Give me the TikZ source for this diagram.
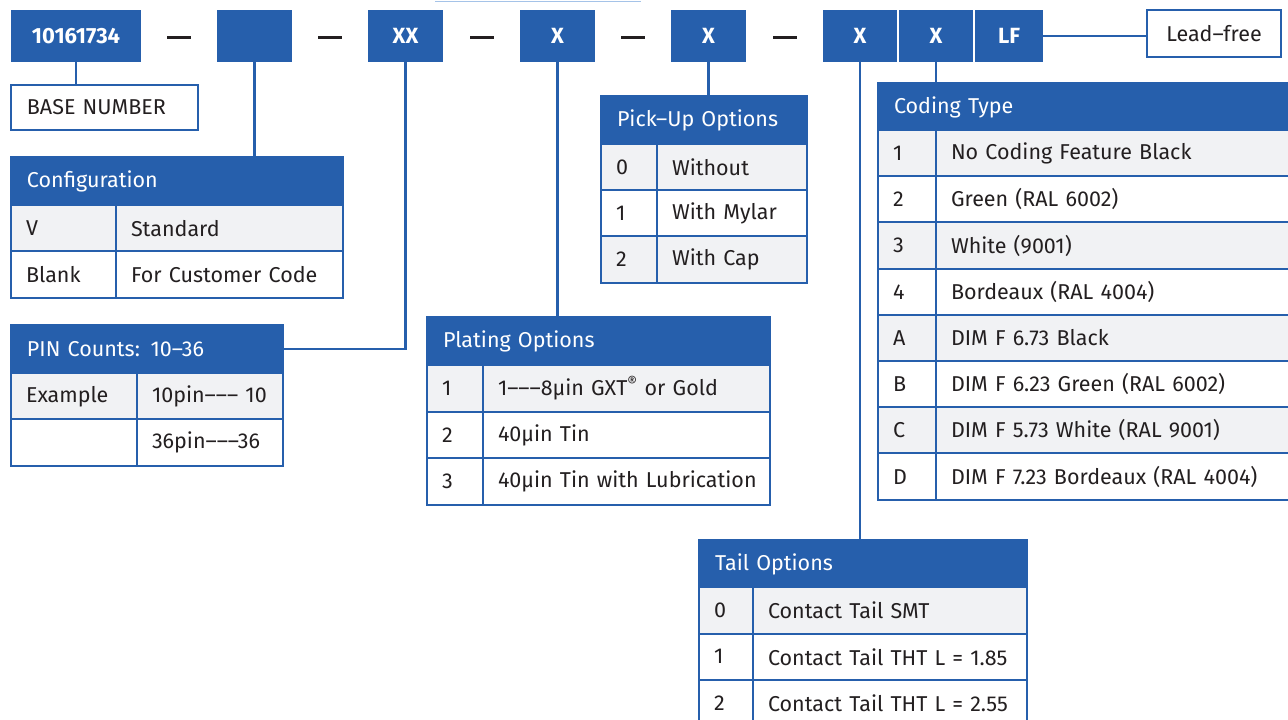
\documentclass[tikz,border=0pt]{standalone}
\usepackage{fontspec}
\setmainfont{Fira Sans}
\definecolor{hdrblue}{RGB}{38,95,172}
\definecolor{rowgray}{RGB}{241,242,244}
\definecolor{ink}{RGB}{35,31,32}
\definecolor{linkblue}{RGB}{165,195,232}

\begin{document}
\begin{tikzpicture}[x=1pt, y=-1pt, text=ink, font={\fontsize{21.5}{26}\selectfont\spaceskip=4pt\relax},
  topbox/.style={fill=hdrblue, text=white, font=\fontsize{22}{26}\selectfont\bfseries, minimum height=52, inner sep=0, outer sep=0, anchor=north west},
  hdr/.style={fill=hdrblue, draw=hdrblue, line width=2, text=white, anchor=north west, minimum height=48, inner xsep=16, inner ysep=0, outer sep=0, align=left},
  cell/.style={draw=hdrblue, line width=2, anchor=north west, minimum height=46.5, inner xsep=15, inner ysep=0, outer sep=0, align=left},
  conn/.style={draw=hdrblue, line width=2.5},
  sep/.style={fill=ink, minimum width=24, minimum height=3, inner sep=0}]
\useasboundingbox (0,0) rectangle (1288,720);
\draw[linkblue, line width=1] (435,1) -- (641,1);

% part number boxes
\node[topbox, minimum width=130] (b0) at (11,10) {10161734};
\node[topbox, minimum width=75] (b1) at (217,10) {};
\node[topbox, minimum width=75] (b2) at (368,10) {XX};
\node[topbox, minimum width=75] (b3) at (520,10) {X};
\node[topbox, minimum width=75] (b4) at (671,10) {X};
\node[topbox, minimum width=74] (b5) at (823,10) {X};
\node[topbox, minimum width=74] (b6) at (899,10) {X};
\node[topbox, minimum width=68] (b7) at (975,10) {LF};
\node[sep] (d1) at (179,37) {};
\node[sep] (d2) at (330,37) {};
\node[sep] (d3) at (482,37) {};
\node[sep] (d4) at (633,37) {};
\node[sep] (d5) at (785,37) {};

\node[draw=hdrblue, line width=2.5, fill=white, anchor=north west, outer sep=0, minimum width=134, minimum height=47] (lf) at (1147,10) {Lead–free};
\node[draw=hdrblue, line width=2.5, anchor=north west, outer sep=0, minimum height=45, text width=155pt, inner xsep=16, inner ysep=0, align=left] (base) at (11,85) {BASE NUMBER};

% configuration
\node[hdr, text width=300pt] (cfg) at (11,157) {Configuration};
\foreach \k/\v/\f [count=\i] in {V/Standard/rowgray, Blank/For Customer Code/white}{
  \node[cell, fill=\f, text width=75pt] (cfg-k\i) at (11,{205+(\i-1)*46}) {\k};
  \node[cell, fill=\f, text width=197pt] (cfg-v\i) at (cfg-k\i.north east) {\mbox{\v}};
}

% pin counts
\node[hdr, text width=240pt] (pin) at (11,325) {PIN Counts: 10–36};
\foreach \k/\v/\f [count=\i] in {Example/10pin––– 10/rowgray, /36pin–––36/white}{
  \node[cell, fill=\f, text width=96pt] (pin-k\i) at (11,{373+(\i-1)*46}) {\k};
  \node[cell, fill=\f, text width=116pt] (pin-v\i) at (pin-k\i.north east) {\mbox{\v}};
}

% plating
\node[hdr, text width=311pt] (plt) at (427,317) {Plating Options};
\foreach \k/\v/\f [count=\i] in {1/{1–––8µin GXT\textsuperscript{®} or Gold}/rowgray, 2/40µin Tin/white, 3/40µin Tin with Lubrication/white}{
  \node[cell, fill=\f, text width=26pt] (plt-k\i) at (427,{365+(\i-1)*46.7}) {\k};
  \node[cell, fill=\f, text width=257pt] (plt-v\i) at (plt-k\i.north east) {\mbox{\v}};
}

% pick-up
\node[hdr, text width=174pt] (pck) at (601,96) {Pick–Up Options};
\foreach \k/\v/\f [count=\i] in {0/Without/rowgray, 1/With Mylar/white, 2/With Cap/rowgray}{
  \node[cell, fill=\f, text width=26pt] (pck-k\i) at (601,{144+(\i-1)*46}) {\k};
  \node[cell, fill=\f, text width=120pt] (pck-v\i) at (pck-k\i.north east) {\mbox{\v}};
}

% coding
\node[hdr, text width=390pt] (cod) at (878,83) {Coding Type};
\foreach \k/\v/\f [count=\i] in {1/No Coding Feature Black/rowgray, 2/Green (RAL 6002)/white, 3/White (9001)/rowgray, 4/Bordeaux (RAL 4004)/white, A/DIM F 6.73 Black/rowgray, B/DIM F 6.23 Green (RAL 6002)/white, C/DIM F 5.73 White (RAL 9001)/rowgray, D/DIM F 7.23 Bordeaux (RAL 4004)/white}{
  \node[cell, fill=\f, text width=28pt] (cod-k\i) at (878,{130+(\i-1)*46.2}) {\k};
  \node[cell, fill=\f, text width=334pt] (cod-v\i) at (cod-k\i.north east) {\mbox{\v}};
}

% tail
\node[hdr, text width=296pt] (tail) at (699,540) {Tail Options};
\foreach \k/\v/\f [count=\i] in {0/Contact Tail SMT/rowgray, 1/Contact Tail THT L = 1.85/white, 2/Contact Tail THT L = 2.55/white}{
  \node[cell, fill=\f, text width=24pt] (tail-k\i) at (699,{587+(\i-1)*46.5}) {\k};
  \node[cell, fill=\f, text width=244pt] (tail-v\i) at (tail-k\i.north east) {\mbox{\v}};
}

% connectors
\draw[conn] (b0.south) -- (b0.south |- base.north);
\draw[conn] (b1.south) -- (b1.south |- cfg.north);
\draw[conn] (b2.south) |- (pin.east);
\draw[conn] (b3.south) -- (b3.south |- plt.north);
\draw[conn] (b4.south) -- (b4.south |- pck.north);
\draw[conn] (b5.south) -- (b5.south |- tail.north);
\draw[conn] (b6.south) -- (b6.south |- cod.north);
\draw[conn] (b7.east) -- (b7.east -| lf.west);
\end{tikzpicture}
\end{document}
